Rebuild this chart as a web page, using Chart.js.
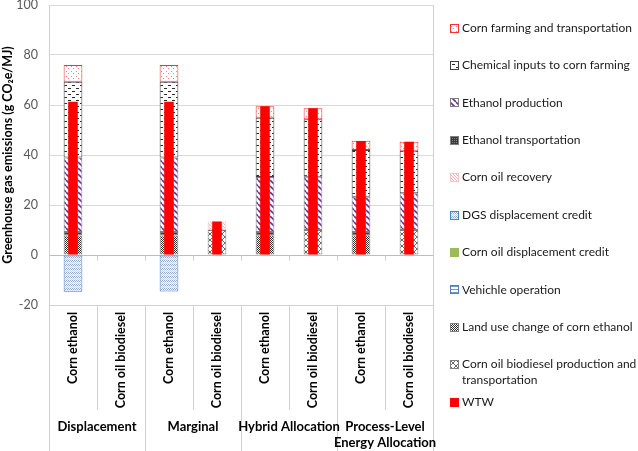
<!DOCTYPE html>
<html><head><meta charset="utf-8">
<script src="https://cdn.jsdelivr.net/npm/chart.js@4.4.1/dist/chart.umd.min.js"></script>
<style>html,body{margin:0;padding:0;background:#fff;}canvas{display:block}</style>
</head><body>
<canvas id="c" width="638" height="451"></canvas>
<script>
// ---------- data ----------
const categories = ['Corn ethanol','Corn oil biodiesel','Corn ethanol','Corn oil biodiesel','Corn ethanol','Corn oil biodiesel','Corn ethanol','Corn oil biodiesel'];
const groups = ['Displacement','Marginal','Hybrid Allocation',['Process-Level','Energy Allocation']];
const yTickMin = -20, yTickMax = 100, yTickStep = 20;
const cornFarming      = [6.7, null, 6.7, null, 4.6, 4.4, 3.7, 3.6];
const chemicalInputs   = [30.3, null, 30.3, null, 23.7, 23.0, 18.7, 17.0];
const ethanolProd      = [29.8, null, 29.8, null, 22.0, 21.3, 14.1, 14.7];
const ethanolTrans     = [1.4, null, 1.4, null, 1.3, null, 1.3, null];
const cornOilRecovery  = [null, null, null, 3.4, null, null, null, null];
const dgsCredit        = [-14.7, null, -14.6, null, null, null, null, null];
const cornOilCredit    = [null, null, null, null, null, null, null, null];
const vehicleOp        = [null, null, null, null, null, null, null, null];
const landUse          = [7.8, null, 7.8, null, 7.9, null, 7.9, null];
const biodieselProd    = [null, null, null, 10.0, null, 10.0, null, 10.0];
const wtw              = [61.3, null, 61.3, 13.4, 59.5, 58.7, 45.6, 45.3];

// ---------- patterns ----------
const canvas = document.getElementById('c');
const mctx = canvas.getContext('2d');
function pat(w, h, bg, draw){
  const c = document.createElement('canvas'); c.width = w; c.height = h;
  const g = c.getContext('2d');
  g.fillStyle = bg; g.fillRect(0,0,w,h);
  draw(g);
  return mctx.createPattern(c, 'repeat');
}
const P = {
  farming: pat(5,5,'#fff', g=>{g.fillStyle='#f08080';g.fillRect(1,1,1,1);g.fillRect(3,3,1,1);}),
  chem: pat(8,6,'#fff', g=>{g.fillStyle='#2b2b2b';g.fillRect(0,1,3,1);g.fillRect(4,4,3,1);}),
  ethProd: pat(6,6,'#fff', g=>{g.strokeStyle='#7030a0';g.lineWidth=1.6;g.beginPath();
    for(let k=-1;k<=1;k++){g.moveTo(k*6,0);g.lineTo(k*6+6,6);}g.stroke();}),
  ethTrans: pat(2,2,'#3a3a3a', g=>{g.fillStyle='#808080';g.fillRect(0,0,1,1);}),
  recovery: pat(3,3,'#fff', g=>{g.fillStyle='#f4b0b0';g.fillRect(0,0,1,1);g.fillRect(1,1,1,1);g.fillRect(2,2,1,1);}),
  dgs: pat(4,4,'#fff', g=>{g.fillStyle='#8fa8d0';g.fillRect(0,0,1,1);g.fillRect(1,1,1,1);g.fillRect(2,0,1,1);g.fillRect(3,1,1,1);
    g.fillStyle='#c3d2ea';g.fillRect(0,2,1,1);g.fillRect(2,2,1,1);g.fillRect(1,3,1,1);g.fillRect(3,3,1,1);}),
  vehicle: pat(3,3,'#fff', g=>{g.fillStyle='#6f96d0';g.fillRect(0,1,3,1);}),
  luc: pat(2,2,'#fff', g=>{g.fillStyle='#303030';g.fillRect(0,0,1,1);g.fillRect(1,1,1,1);}),
  biodiesel: pat(6,6,'#fff', g=>{g.strokeStyle='#6a6a6a';g.lineWidth=1;g.beginPath();
    g.moveTo(0,0);g.lineTo(6,6);g.moveTo(6,0);g.lineTo(0,6);g.stroke();})
};

const FONT = 'Lato, "Open Sans", sans-serif';
function ds(label, data, bg, border){
  return {label, data, backgroundColor: bg, borderColor: border, borderWidth: 1, borderSkipped: false,
    stack: 'parts', grouped: false, barPercentage: 0.39, categoryPercentage: 1, order: 1};
}
// stacking order bottom -> top
const datasets = [
  ds('Corn oil biodiesel production and\ntransportation', biodieselProd, P.biodiesel, '#7f7f7f'),
  ds('Land use change of corn ethanol', landUse, P.luc, '#7f7f7f'),
  ds('Vehichle operation', vehicleOp, P.vehicle, '#4f81bd'),
  ds('Corn oil displacement credit', cornOilCredit, '#9bbb59', '#9bbb59'),
  ds('DGS displacement credit', dgsCredit, P.dgs, '#4f81bd'),
  ds('Corn oil recovery', cornOilRecovery, P.recovery, '#f7c4c4'),
  ds('Ethanol transportation', ethanolTrans, P.ethTrans, '#7f7f7f'),
  ds('Ethanol production', ethanolProd, P.ethProd, '#7f7f7f'),
  ds('Chemical inputs to corn farming', chemicalInputs, P.chem, '#404040'),
  ds('Corn farming and transportation', cornFarming, P.farming, '#ff3030'),
  {label:'WTW', data: wtw, backgroundColor:'#ff0000', borderWidth:0, stack:'wtw', grouped:false,
   barPercentage: 0.2, categoryPercentage: 1, order: 0}
];
const legendOrder = [9,8,7,6,5,4,3,2,1,0,10];

const sideLegend = {
  id: 'sideLegend',
  afterDraw(chart){
    const ctx = chart.ctx;
    ctx.save();
    ctx.font = '12px ' + FONT;
    ctx.textBaseline = 'middle';
    ctx.textAlign = 'left';
    legendOrder.forEach((idx, k) => {
      const d = chart.data.datasets[idx];
      const y = 28 + k * 37.4;
      ctx.fillStyle = d.backgroundColor;
      ctx.fillRect(450, Math.round(y - 4.5), 9, 9);
      if (d.borderWidth) { ctx.strokeStyle = d.borderColor; ctx.lineWidth = 1; ctx.strokeRect(450.5, Math.round(y - 4.5) + 0.5, 8, 8); }
      ctx.fillStyle = '#1a1a1a';
      d.label.split('\n').forEach((t, j) => ctx.fillText(t, 462, y + j * 16));
    });
    ctx.restore();
  }
};
const frame = {
  id: 'frame',
  afterDatasetsDraw(chart){
    const {ctx, chartArea: a, scales: {x, y}} = chart;
    ctx.save();
    ctx.strokeStyle = '#d0d0d0'; ctx.lineWidth = 1;
    ctx.beginPath();
    ctx.moveTo(Math.round(a.right) + 0.5, a.top); ctx.lineTo(Math.round(a.right) + 0.5, a.bottom);
    const y0 = Math.round(y.getPixelForValue(0)) + 0.5;
    for (let i = 0; i <= categories.length; i++) {
      const px = Math.round(x.left + (x.right - x.left) * i / categories.length) + 0.5;
      ctx.moveTo(px, y0); ctx.lineTo(px, y0 + 5);
    }
    ctx.stroke();
    ctx.restore();
  }
};

new Chart(canvas, {
  type: 'bar',
  data: { labels: categories, datasets },
  plugins: [sideLegend, frame],
  options: {
    responsive: false, animation: false, devicePixelRatio: 1,
    layout: { padding: { left: 0, right: 205, top: 0, bottom: 0 } },
    plugins: { legend: { display: false }, tooltip: { enabled: false } },
    scales: {
      x: {
        type: 'category', position: 'bottom', offset: true, stacked: true,
        grid: { offset: true, drawOnChartArea: false, tickLength: 105, color: '#d0d0d0' },
        border: { display: true, color: '#d0d0d0' },
        ticks: { autoSkip: false, minRotation: 90, maxRotation: 90, padding: -98,
          font: { family: FONT, size: 12.5, weight: 'bold' }, color: '#000' },
        afterFit: s => { s.height = 105; }
      },
      x2: {
        type: 'category', labels: groups, position: 'bottom', offset: true,
        grid: { offset: true, drawOnChartArea: false, tickLength: 41, color: '#d0d0d0' },
        border: { display: false },
        ticks: { autoSkip: false, minRotation: 0, maxRotation: 0, padding: -32,
          font: { family: FONT, size: 13, weight: 'bold', lineHeight: 1.2 }, color: '#000' },
        afterFit: s => { s.height = 41; }
      },
      y: {
        min: yTickMin, max: yTickMax, stacked: true,
        ticks: { stepSize: yTickStep, color: '#595959', padding: 0,
          font: { family: FONT, size: 12.5, lineHeight: 0.8 } },
        grid: { color: c => c.tick && c.tick.value === 0 ? '#bdbdbd' : '#d9d9d9', tickLength: 11,
          tickColor: 'rgba(0,0,0,0)' },
        border: { display: true, color: '#d0d0d0' },
        title: { display: true, text: 'Greenhouse gas emissions (g CO\u2082e/MJ)', color: '#000',
          font: { family: FONT, size: 12.5, weight: 'bold' }, padding: 0 },
        afterFit: s => { s.width = 49; }
      }
    }
  }
});
</script>
</body></html>
